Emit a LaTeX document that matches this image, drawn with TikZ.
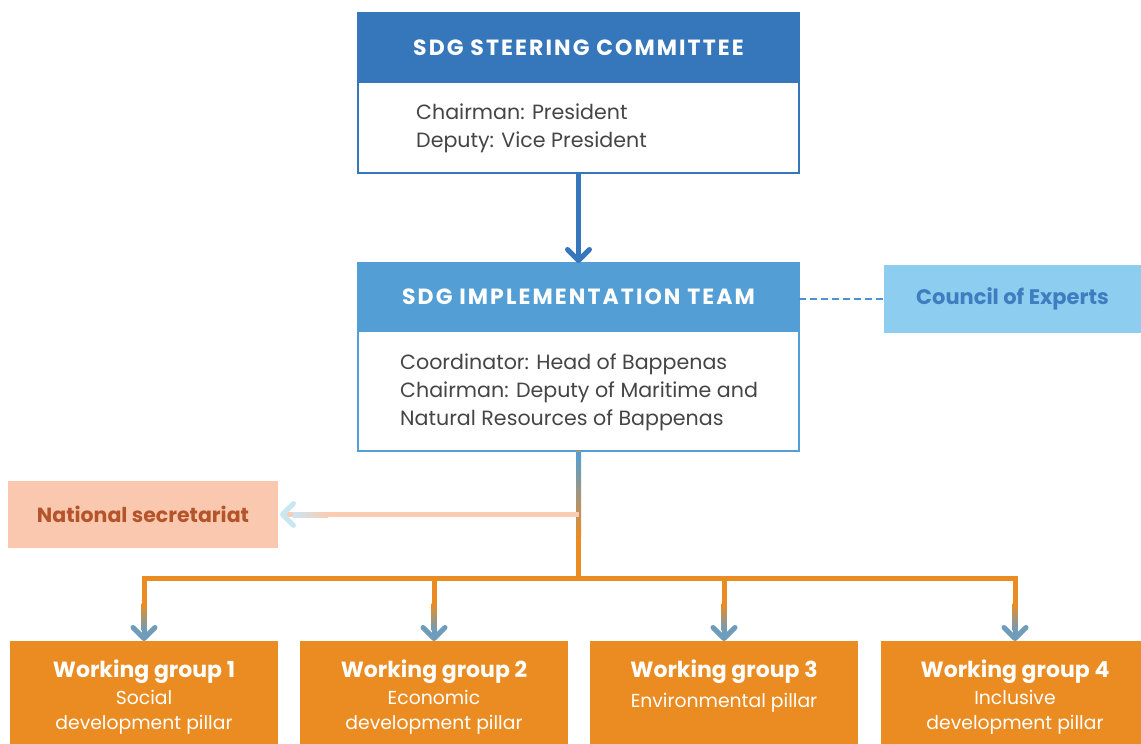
\documentclass[tikz,border=0pt]{standalone}
\usepackage{fontspec}
\setmainfont{Poppins}
\newfontfamily\hdrfont[LetterSpace=9.5]{Poppins}
\newcommand\wgtitlefont{\bfseries\fontsize{22}{25}\selectfont}
\usetikzlibrary{arrows.meta,calc}
\definecolor{steerblue}{HTML}{3676BA}
\definecolor{implblue}{HTML}{539FD5}
\definecolor{councilfill}{HTML}{8DCDF0}
\definecolor{counciltext}{HTML}{3D7DC0}
\definecolor{dashblue}{HTML}{4A92D2}
\definecolor{orangec}{HTML}{EB8C23}
\definecolor{natfill}{HTML}{FAC8AF}
\definecolor{nattext}{HTML}{B4542B}
\definecolor{pinkline}{HTML}{FBCBB2}
\definecolor{arrowlb}{HTML}{C9E6F3}
\definecolor{grayblue}{HTML}{6E9CBA}
\definecolor{bodytextc}{HTML}{454545}
\begin{document}
\begin{tikzpicture}[x=1pt,y=-1pt,
  hdr/.style={fill=#1, draw=#1, line width=2pt, inner sep=0pt, outer sep=0pt,
    minimum width=441pt, text=white, font=\hdrfont\bfseries\fontsize{22}{24}\selectfont},
  bodybox/.style={draw=#1, fill=white, line width=2.5pt, inner sep=0pt, outer sep=0pt, minimum width=441pt},
  bodytext/.style={anchor=west, align=left, inner sep=0pt, text=bodytextc, font=\fontsize{20.6}{28}\selectfont},
  sidebox/.style={fill=#1, draw=none, inner sep=0pt, outer sep=0pt, minimum height=68pt},
  wgbox/.style={fill=orangec, draw=none, inner sep=0pt, outer sep=0pt, minimum width=268pt, minimum height=110pt},
  wgtext/.style={anchor=north, align=center, inner sep=0pt, text=white, font=\fontsize{18.8}{25}\selectfont},
  conn/.style={line width=5pt},
  barb/.style={-{Straight Barb[length=11pt,width=22pt,round,color=#1]}},
]
\useasboundingbox (0,0) rectangle (1141,744);
\clip (0,0) rectangle (1141,744);

% steering committee
\node[bodybox=steerblue, minimum height=91pt] (steerBody) at (578.5,127.5) {};
\node[hdr=steerblue, minimum height=69pt] (steerHead) at (578.5,47.5) {SDG STEERING COMMITTEE};
\node[bodytext] (steerText) at (416,128) {Chairman: President\\Deputy: Vice President};

% implementation team
\node[bodybox=implblue, minimum height=120pt] (implBody) at (578.5,391) {};
\node[hdr=implblue, minimum height=68pt] (implHead) at (578.5,297) {SDG IMPLEMENTATION TEAM};
\node[bodytext] (implText) at (400,392) {Coordinator: Head of Bappenas\\Chairman: Deputy of Maritime and\\Natural Resources of Bappenas};

% council of experts
\node[sidebox=councilfill, minimum width=257pt, text=counciltext, font=\bfseries\fontsize{21}{24}\selectfont] (council) at (1012.5,299) {Council of Experts};

% national secretariat
\node[sidebox=natfill, minimum width=270pt, minimum height=67pt, text=nattext, font=\bfseries\fontsize{20.5}{24}\selectfont] (natsec) at (143,514.5) {National secretariat};

% working groups
\node[wgbox] (wg1) at (144,696) {};
\node[wgbox] (wg2) at (434,696) {};
\node[wgbox] (wg3) at (724,696) {};
\node[wgbox] (wg4) at (1015,696) {};
\node[wgtext] (wg1t) at ($(wg1.north)+(0,19)$) {{\wgtitlefont Working group 1}\\[2pt]Social\\development pillar};
\node[wgtext] (wg2t) at ($(wg2.north)+(0,19)$) {{\wgtitlefont Working group 2}\\[2pt]Economic\\development pillar};
\node[wgtext] (wg3t) at ($(wg3.north)+(0,19)$) {{\wgtitlefont Working group 3}\\[5pt]Environmental pillar};
\node[wgtext] (wg4t) at ($(wg4.north)+(0,19)$) {{\wgtitlefont Working group 4}\\[2pt]Inclusive\\development pillar};

% junction coordinates
\coordinate (j1) at (implBody.south |- natsec.east);
\coordinate (j2) at ($(implBody.south)+(0,127)$);

% steering -> implementation
\draw[conn, steerblue, barb=steerblue] (steerBody.south) -- (implHead.north);

% dashed link to council
\draw[line width=2.5pt, dashblue, dash pattern=on 7pt off 4pt] (council.west -| implHead.east) -- (council.west);

% trunk from implementation team
\draw[conn, orangec] (implBody.south) -- (j2);
\shade[top color=implblue, bottom color=orangec] ($(implBody.south)+(-2.5,1)$) rectangle ($(j1)+(2.5,22)$);

% to national secretariat
\draw[conn, pinkline, barb=arrowlb] (j1) -- ($(natsec.east)+(2,0)$);
\shade[left color=arrowlb, right color=pinkline] ($(natsec.east)+(15,-2.5)$) rectangle ($(natsec.east)+(50,2.5)$);

% bar
\draw[conn, orangec, line cap=rect] (j2 -| wg1.north) -- (j2 -| wg4.north);

% drops to working groups
\foreach \w in {wg1,wg2,wg3,wg4}{
  \draw[conn, grayblue, barb=grayblue] (j2 -| \w.north) -- (\w.north);
  \fill[orangec] ($(j2 -| \w.north)+(-2.5,0)$) rectangle ($(\w.north)+(2.5,-37)$);
  \shade[top color=orangec, bottom color=grayblue] ($(\w.north)+(-2.5,-37.5)$) rectangle ($(\w.north)+(2.5,-11)$);
}
\end{tikzpicture}
\end{document}
